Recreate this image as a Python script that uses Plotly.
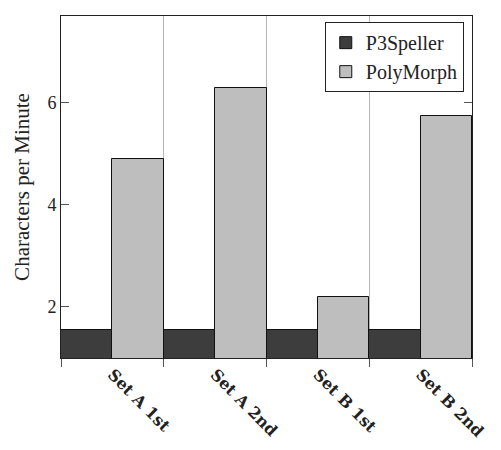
import plotly.graph_objects as go

categories = ["Set A 1st", "Set A 2nd", "Set B 1st", "Set B 2nd"]
p3speller = [1.55, 1.55, 1.55, 1.55]
polymorph = [4.90, 6.29, 2.20, 5.75]
y_ticks = [2, 4, 6]

x_pos = list(range(len(categories)))
boundaries = [i - 0.5 for i in range(len(categories) + 1)]

FONT = "Liberation Serif"

fig = go.Figure()
fig.add_trace(go.Bar(
    x=x_pos, y=p3speller, name="P3Speller", base=0,
    marker=dict(color="#3d3d3d", line=dict(color="#111111", width=1)),
))
fig.add_trace(go.Bar(
    x=x_pos, y=polymorph, name="PolyMorph", base=0,
    marker=dict(color="#bebebe", line=dict(color="#111111", width=1)),
))

fig.update_layout(
    width=501, height=450,
    margin=dict(l=61, r=29, t=16, b=92),
    paper_bgcolor="white", plot_bgcolor="white",
    barmode="group", bargap=0, bargroupgap=0,
    font=dict(family=FONT, color="#222222", size=17),
    showlegend=True,
    legend=dict(
        x=0.98, y=0.982, xanchor="right", yanchor="top",
        bgcolor="white", bordercolor="#222222", borderwidth=1,
        font=dict(family=FONT, size=20, color="#222222"),
        tracegroupgap=0, itemwidth=30,
    ),
    xaxis=dict(
        range=[boundaries[0], boundaries[-1]],
        tickmode="array", tickvals=x_pos, ticktext=categories,
        ticks="", tickangle=45, automargin=False,
        tickfont=dict(family="DejaVu Serif", size=16, color="#222222", weight="bold"),
        showgrid=False,
        minor=dict(tickmode="array", tickvals=boundaries, ticks="outside",
                   ticklen=8, tickcolor="#555555", tickwidth=1,
                   showgrid=True, gridcolor="#b5b5b5", gridwidth=1),
        showline=True, linecolor="#222222", linewidth=1, mirror=True,
        zeroline=False, layer="below traces",
    ),
    yaxis=dict(
        range=[1, 7.7], automargin=False,
        tickmode="array", tickvals=y_ticks,
        ticks="inside", ticklen=8, tickcolor="#555555", tickwidth=1,
        tickfont=dict(family=FONT, size=18, color="#222222"),
        showgrid=False, zeroline=False,
        showline=True, linecolor="#222222", linewidth=1, mirror="allticks",
        title=dict(text="Characters per Minute", standoff=12,
                   font=dict(family=FONT, size=21, color="#222222")),
        layer="below traces",
    ),
)

fig.write_html("out.html")
